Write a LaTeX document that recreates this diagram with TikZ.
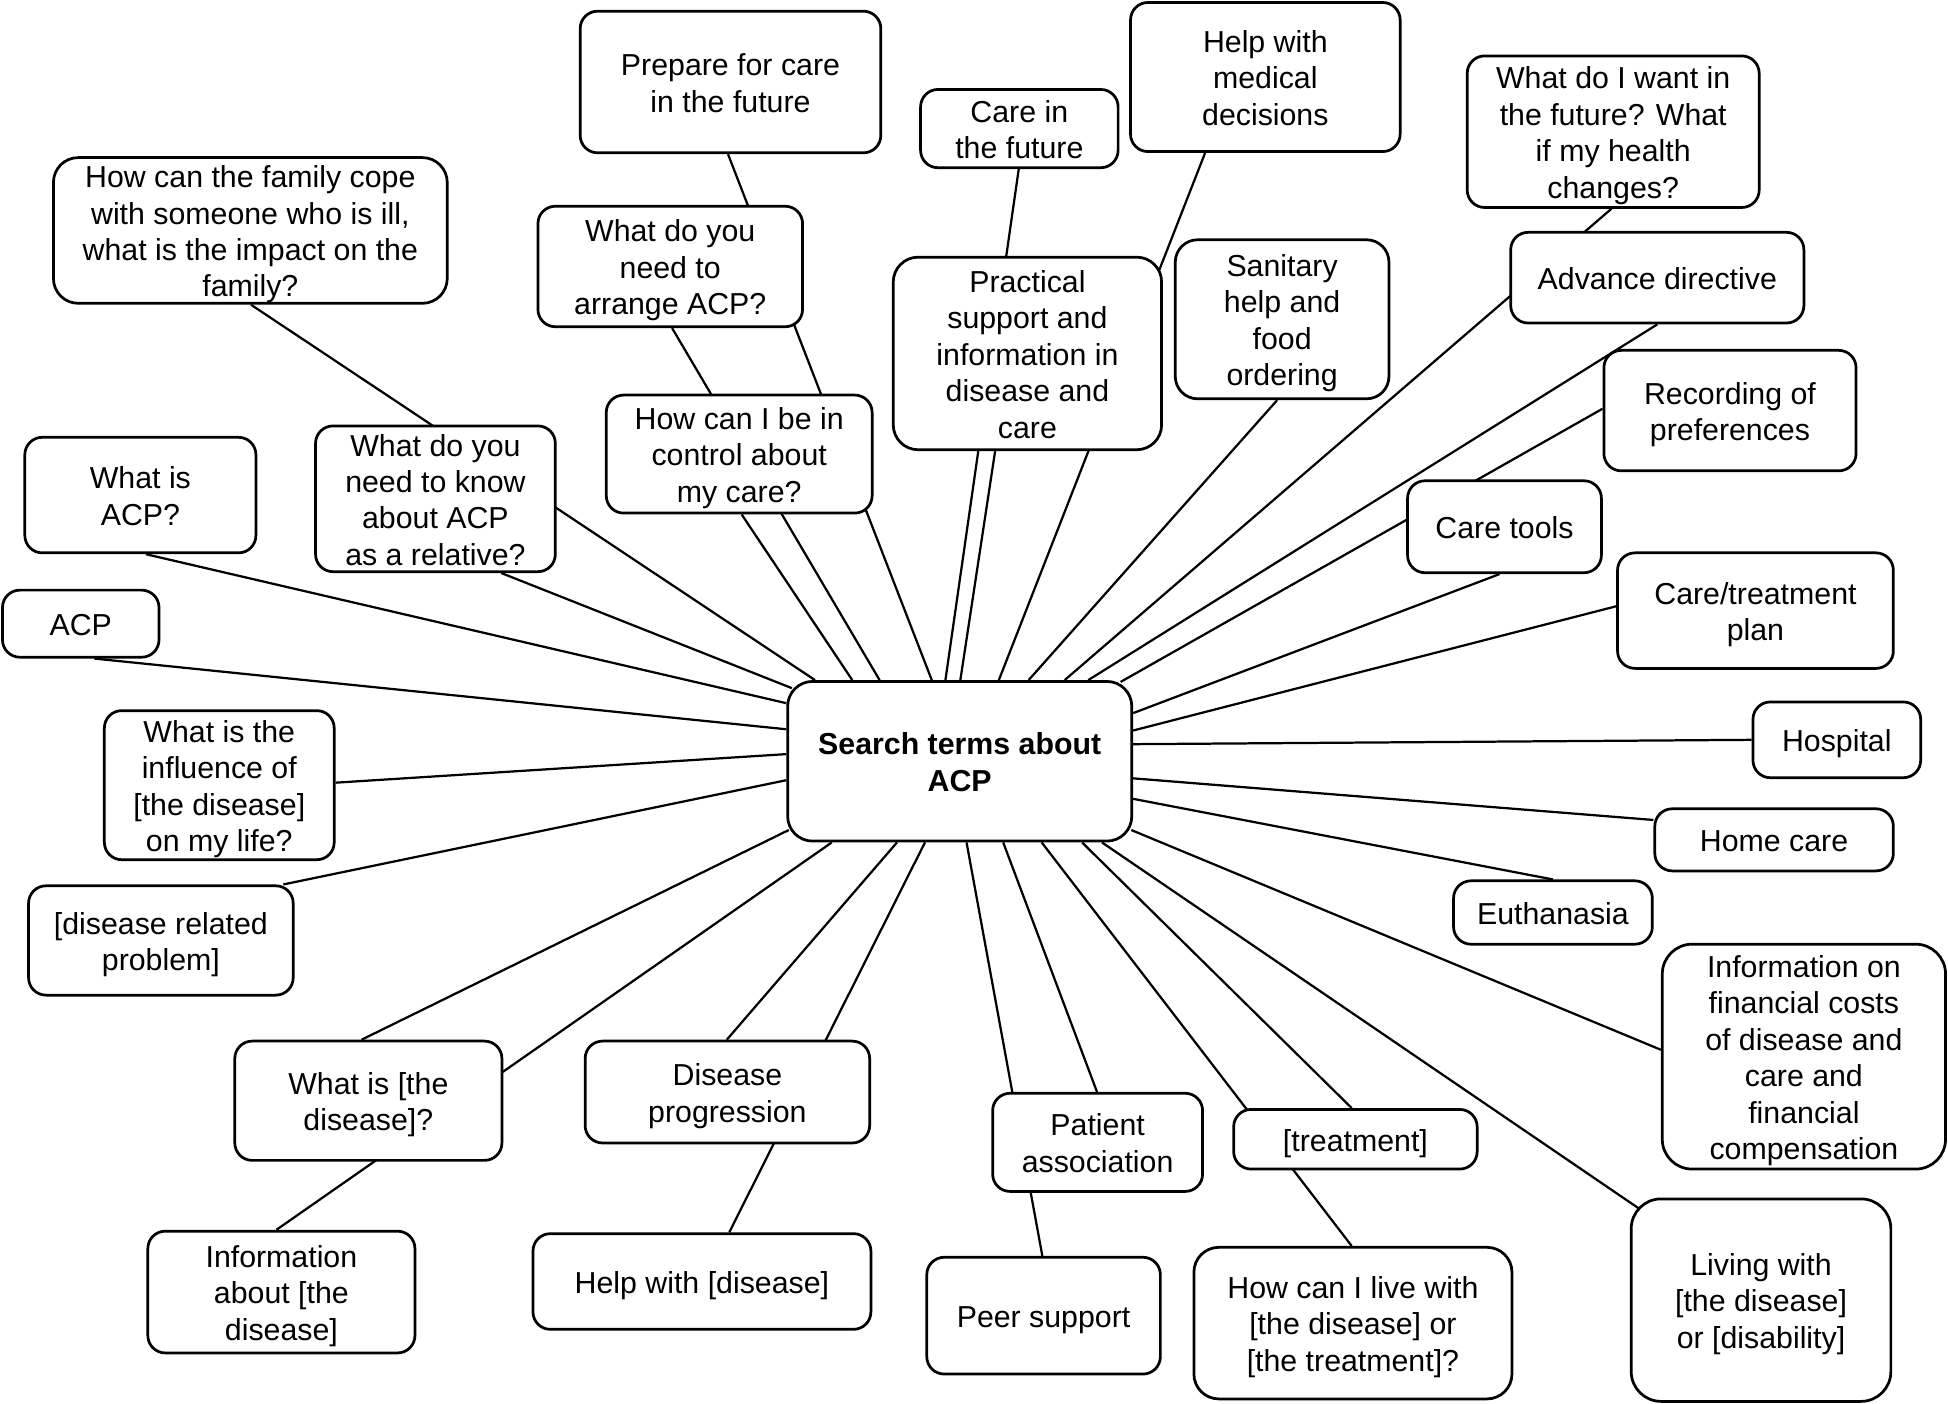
\documentclass[tikz,border=0pt]{standalone}
\usepackage{fontspec}
\setmainfont{Liberation Sans}
\usetikzlibrary{calc,backgrounds}
\newcommand\TopR{\rule{0pt}{24.2pt}}
\newcommand\BotR{\rule[-5.2pt]{0pt}{5.2pt}}
\begin{document}
\begin{tikzpicture}[x=1pt,y=-1pt,
  bx/.style={draw, line width=2.2pt, rounded corners=14pt, fill=white, align=center, inner sep=0pt,
    font=\fontsize{24.4}{29.3}\selectfont},
  ln/.style={line width=1.8pt}]
\useasboundingbox (0,0) rectangle (1568,1130);
\node[bx, minimum width=242, minimum height=114] (prep) at (588,66) {\TopR Prepare for care\\in the future\BotR};
\node[bx, minimum width=159, minimum height=63] (cfut) at (820.5,103.5) {\TopR Care in\\the future\BotR};
\node[bx, minimum width=217, minimum height=120] (helpmed) at (1018.5,62) {\TopR Help with\\medical\\decisions\BotR};
\node[bx, minimum width=235, minimum height=122] (want) at (1298.5,106) {\TopR What do I want in\\the future? What\\if my health\\changes?\BotR};
\node[bx, minimum width=317, minimum height=115, rounded corners=20pt] (family) at (201.5,185.5) {\TopR How can the family cope\\with someone who is ill,\\what is the impact on the\\family?\BotR};
\node[bx, minimum width=213, minimum height=97] (arrange) at (539.5,214.5) {\TopR What do you\\need to\\arrange ACP?\BotR};
\node[bx, minimum width=216, minimum height=155, rounded corners=20pt] (practical) at (827,284.5) {\TopR Practical\\support and\\information in\\disease and\\care\BotR};
\node[bx, minimum width=172, minimum height=128, rounded corners=18pt] (sanitary) at (1032,257) {\TopR Sanitary\\help and\\food\\ordering\BotR};
\node[bx, minimum width=236, minimum height=73] (advdir) at (1334,223.5) {\TopR Advance directive\BotR};
\node[bx, minimum width=203, minimum height=97] (recording) at (1392.5,330.5) {\TopR Recording of\\preferences\BotR};
\node[bx, minimum width=214, minimum height=95] (control) at (595,365.5) {\TopR How can I be in\\control about\\my care?\BotR};
\node[bx, minimum width=193, minimum height=115] (relative) at (350.5,401.5) {\TopR What do you\\need to know\\about ACP\\as a relative?\BotR};
\node[bx, minimum width=186, minimum height=93] (whatacp) at (113,398.5) {\TopR What is\\ACP?\BotR};
\node[bx, minimum width=156, minimum height=74] (caretools) at (1211,424) {\TopR Care tools\BotR};
\node[bx, minimum width=126, minimum height=54] (acp) at (65,502) {\TopR ACP\BotR};
\node[bx, minimum width=222, minimum height=93] (plan) at (1413,491.5) {\TopR Care/treatment\\plan\BotR};
\node[bx, minimum width=277, minimum height=128.5, rounded corners=20pt, font=\fontsize{24.4}{29.3}\selectfont\bfseries] (c) at (772.5,612.75) {\TopR Search terms about\\ACP\BotR};
\node[bx, minimum width=185, minimum height=120] (influence) at (176.5,632) {\TopR What is the\\influence of\\{}[the disease]\\on my life?\BotR};
\node[bx, minimum width=135, minimum height=61] (hospital) at (1478.5,595.5) {\TopR Hospital\BotR};
\node[bx, minimum width=192, minimum height=50] (homecare) at (1428,676) {\TopR Home care\BotR};
\node[bx, minimum width=160, minimum height=51] (euth) at (1250,734.5) {\TopR Euthanasia\BotR};
\node[bx, minimum width=213, minimum height=88] (related) at (129.5,757) {\TopR [disease related\\problem]\BotR};
\node[bx, minimum width=228, minimum height=181, rounded corners=24pt] (financial) at (1452,850.5) {\TopR Information on\\financial costs\\of disease and\\care and\\financial\\compensation\BotR};
\node[bx, minimum width=215, minimum height=96] (whatdis) at (296.5,886) {\TopR What is [the\\disease]?\BotR};
\node[bx, minimum width=229, minimum height=82] (progression) at (585.5,879) {\TopR Disease\\progression\BotR};
\node[bx, minimum width=169, minimum height=79] (patient) at (883.5,919.5) {\TopR Patient\\association\BotR};
\node[bx, minimum width=196, minimum height=48] (treatment) at (1091,917) {\TopR [treatment]\BotR};
\node[bx, minimum width=215, minimum height=98] (infoabout) at (226.5,1040) {\TopR Information\\about [the\\disease]\BotR};
\node[bx, minimum width=272, minimum height=77] (helpdis) at (565,1031.5) {\TopR Help with [disease]\BotR};
\node[bx, minimum width=188, minimum height=94] (peer) at (840,1059) {\TopR Peer support\BotR};
\node[bx, minimum width=256, minimum height=122, rounded corners=20pt] (live) at (1089,1065) {\TopR How can I live with\\{}[the disease] or\\{}[the treatment]?\BotR};
\node[bx, minimum width=209, minimum height=163, rounded corners=24pt] (living) at (1417.5,1046.5) {\TopR Living with\\{}[the disease]\\or [disability]\BotR};
\begin{scope}[on background layer]
\draw[ln] ($(c.north)+(-116.5,0)$) -- ($(family.south)+(0.5,0)$);
\draw[ln] ($(c.north)+(-86.5,0)$) -- ($(control.south)+(2,0)$);
\draw[ln] ($(c.north)+(-64.5,0)$) -- ($(arrange.south)+(1.5,0)$);
\draw[ln] ($(c.north)+(-22.5,0)$) -- ($(prep.south)+(-2,0)$);
\draw[ln] ($(c.north)+(-11.5,0)$) -- ($(cfut.south)+(-0.5,0)$);
\draw[ln] ($(c.north)+(0.5,0)$) -- ($(practical.south)+(-26,0)$);
\draw[ln] ($(c.north)+(31.5,0)$) -- ($(helpmed.south)+(-48.5,0)$);
\draw[ln] ($(c.north)+(55.5,0)$) -- ($(sanitary.south)+(-4,0)$);
\draw[ln] ($(c.north)+(84.5,0)$) -- ($(want.south)+(-1.5,0)$);
\draw[ln] ($(c.north)+(103.5,0)$) -- (advdir.south);
\draw[ln] ($(c.north)+(129.5,1.5)$) -- ($(recording.west)+(0,-1.5)$);
\draw[ln] ($(c.east)+(0,-38.75)$) -- ($(caretools.south)+(-4,0)$);
\draw[ln] ($(c.east)+(0,-24.75)$) -- ($(plan.west)+(0,-3.5)$);
\draw[ln] ($(c.east)+(0,-13.75)$) -- (hospital.west);
\draw[ln] ($(c.east)+(0,13.75)$) -- ($(homecare.west)+(0,-16)$);
\draw[ln] ($(c.east)+(0,30.25)$) -- (euth.north);
\draw[ln] ($(c.south east)+(-1.5,-10)$) -- ($(financial.west)+(0,-5.5)$);
\draw[ln] ($(c.south)+(114.5,0)$) -- ($(living.north west)+(9,10)$);
\draw[ln] ($(c.south)+(98.5,0)$) -- ($(treatment.north)+(-3,0)$);
\draw[ln] ($(c.south)+(66,0)$) -- ($(live.north)+(-1,0)$);
\draw[ln] ($(c.south)+(35,0)$) -- ($(patient.north)+(-0.5,0)$);
\draw[ln] ($(c.south)+(5.5,0)$) -- ($(peer.north)+(-1,0)$);
\draw[ln] ($(c.south)+(-28,0)$) -- ($(helpdis.north)+(22,0)$);
\draw[ln] ($(c.south)+(-50.5,0)$) -- ($(progression.north)+(-0.5,0)$);
\draw[ln] ($(c.south)+(-103,0)$) -- ($(infoabout.north)+(-4,0)$);
\draw[ln] ($(c.south west)+(2,-10)$) -- ($(whatdis.north)+(-5.5,0)$);
\draw[ln] ($(c.west)+(0,15.25)$) -- ($(related.north east)+(-9,0)$);
\draw[ln] ($(c.west)+(0,-5.75)$) -- ($(influence.east)+(0,-2)$);
\draw[ln] ($(c.west)+(0,-25.75)$) -- ($(acp.south)+(11,0)$);
\draw[ln] ($(c.west)+(0,-46.75)$) -- ($(whatacp.south)+(4.5,0)$);
\draw[ln] ($(c.north west)+(4.5,6.5)$) -- ($(relative.south)+(53,0)$);
\end{scope}
\end{tikzpicture}
\end{document}
